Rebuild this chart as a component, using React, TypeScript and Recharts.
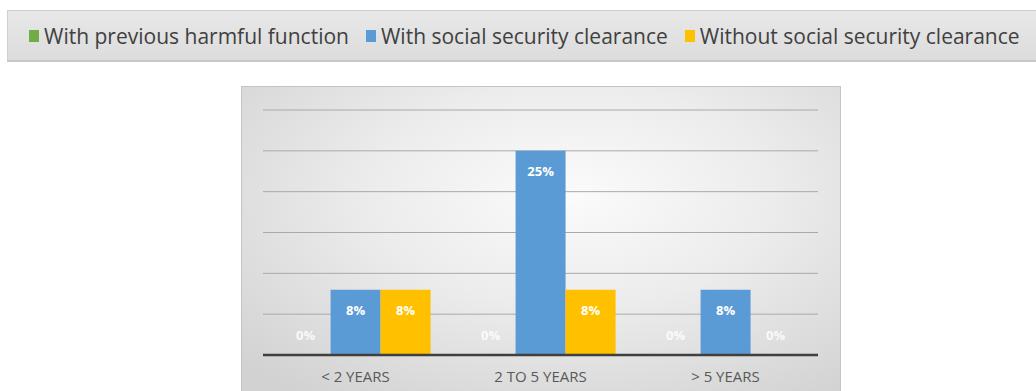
import { BarChart, Bar, XAxis, YAxis, CartesianGrid, LabelList } from "recharts";

const categories = ["< 2 YEARS", "2 TO 5 YEARS", "> 5 YEARS"];
const seriesNames = [
  "With previous harmful function",
  "With social security clearance",
  "Without social security clearance",
];
const harmful = [0, 0, 0];
const withClearance = [8, 25, 8];
const withoutClearance = [8, 8, 0];
const yTicks = [0, 5, 10, 15, 20, 25, 30];

const colors = ["#70ad47", "#5b9bd5", "#ffc000"];
const keys = ["harmful", "withClearance", "withoutClearance"];

const data = categories.map((name, i) => ({
  name,
  harmful: harmful[i],
  withClearance: withClearance[i],
  withoutClearance: withoutClearance[i],
}));

const FONT = "'Open Sans', 'DejaVu Sans', sans-serif";

// labels sit just inside the bar top; zero bars get theirs above the axis
const PctLabel = (props: any) => {
  const { x, y, width, height, value } = props;
  const cy = value > 0 ? y + 20 : y + height - 20;
  return (
    <text
      x={x + width / 2}
      y={cy}
      textAnchor="middle"
      dominantBaseline="central"
      fill="#ffffff"
      fillOpacity={value > 0 ? 1 : 0.85}
      fontSize={13}
      fontWeight={700}
      fontFamily={FONT}
    >
      {value}%
    </text>
  );
};

function LegendBox() {
  return (
    <div
      style={{
        position: "absolute",
        left: 7,
        top: 10,
        width: 1035,
        height: 52,
        boxSizing: "border-box",
        background: "linear-gradient(#e8e8e8, #dcdcdc)",
        border: "1px solid #cfcfcf",
        borderBottom: "2px solid #c8c8c8",
        display: "flex",
        alignItems: "center",
        paddingLeft: 21,
        gap: 17,
        fontFamily: FONT,
        fontSize: 21,
        color: "#404040",
        whiteSpace: "nowrap",
      }}
    >
      {seriesNames.map((s, i) => (
        <div key={s} style={{ display: "flex", alignItems: "center", gap: 5 }}>
          <span style={{ width: 10, height: 12, background: colors[i], display: "inline-block" }} />
          <span>{s}</span>
        </div>
      ))}
    </div>
  );
}

export default function App() {
  return (
    <div style={{ position: "absolute", left: 0, top: 0, width: 1036, height: 391, background: "#fff", overflow: "hidden" }}>
      <LegendBox />
      <div
        style={{
          position: "absolute",
          left: 241,
          top: 86,
          width: 600,
          height: 310,
          boxSizing: "border-box",
          borderTop: "1px solid #c4c4c4",
          borderLeft: "1px solid #c4c4c4",
          borderRight: "1px solid #c4c4c4",
          background: "radial-gradient(ellipse 75% 80% at 55% 35%, #fbfbfb 0%, #ececec 45%, #d2d2d2 100%)",
        }}
      >
        <BarChart
          width={598}
          height={305}
          data={data}
          margin={{ top: 23, right: 22, left: 21, bottom: 7 }}
          barCategoryGap="9.5%"
          barGap={0}
        >
          <CartesianGrid vertical={false} stroke="#a9a9a9" strokeWidth={1} />
          <YAxis hide domain={[0, 30]} ticks={yTicks} />
          <XAxis
            dataKey="name"
            height={30}
            axisLine={{ stroke: "#3f3f3f", strokeWidth: 2.5 }}
            tickLine={false}
            tickMargin={10}
            tick={{ fill: "#595959", fontSize: 15, fontFamily: FONT }}
          />
          {keys.map((k, i) => (
            <Bar
              key={k}
              dataKey={k}
              name={seriesNames[i]}
              fill={colors[i]}
              minPointSize={0.01}
              isAnimationActive={false}
            >
              <LabelList dataKey={k} content={PctLabel} />
            </Bar>
          ))}
        </BarChart>
      </div>
    </div>
  );
}
